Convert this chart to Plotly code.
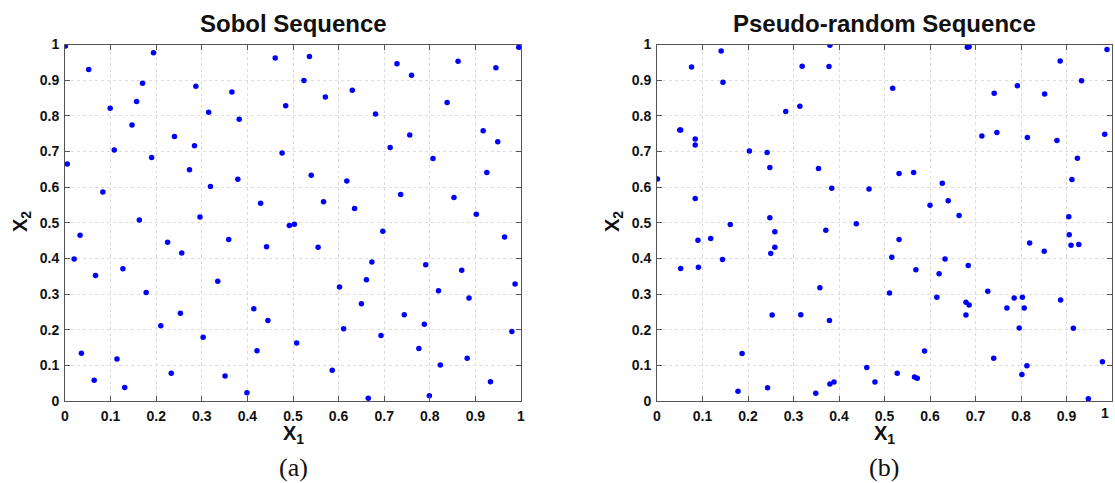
import plotly.graph_objects as go

# Sobol sequence points (x1, x2)
sobol_x1 = [0.001, 0.052, 0.194, 0.170, 0.287, 0.366, 0.461, 0.157, 0.099, 0.315,
            0.484, 0.382, 0.147, 0.240, 0.284, 0.108, 0.476, 0.005, 0.190, 0.273,
            0.379, 0.319, 0.083, 0.429, 0.163, 0.296,
            0.536, 0.524, 0.571, 0.630, 0.728, 0.760, 0.862, 0.945, 0.995, 0.681,
            0.838, 0.917, 0.949, 0.756, 0.713, 0.807, 0.925, 0.540, 0.618, 0.567,
            0.635, 0.736, 0.853, 0.902,
            0.492, 0.503, 0.033, 0.020, 0.067, 0.127, 0.225, 0.256, 0.359, 0.442,
            0.178, 0.335, 0.414, 0.445, 0.253, 0.210, 0.303, 0.421, 0.036, 0.114,
            0.064, 0.131, 0.233, 0.351, 0.399,
            0.697, 0.555, 0.673, 0.791, 0.870, 0.964, 0.661, 0.602, 0.819, 0.987,
            0.886, 0.650, 0.744, 0.788, 0.611, 0.980, 0.508, 0.693, 0.776, 0.882,
            0.823, 0.586, 0.933, 0.665, 0.799]
sobol_x2 = [0.996, 0.930, 0.977, 0.891, 0.883, 0.867, 0.962, 0.840, 0.821, 0.810,
            0.828, 0.790, 0.774, 0.742, 0.716, 0.704, 0.696, 0.665, 0.683, 0.649,
            0.622, 0.602, 0.586, 0.555, 0.508, 0.516,
            0.966, 0.899, 0.853, 0.872, 0.946, 0.914, 0.953, 0.935, 0.992, 0.805,
            0.837, 0.758, 0.727, 0.746, 0.711, 0.680, 0.641, 0.633, 0.617, 0.559,
            0.540, 0.579, 0.571, 0.524,
            0.492, 0.496, 0.465, 0.398, 0.352, 0.371, 0.445, 0.415, 0.453, 0.433,
            0.304, 0.336, 0.259, 0.226, 0.246, 0.211, 0.179, 0.141, 0.134, 0.118,
            0.058, 0.038, 0.078, 0.070, 0.023,
            0.476, 0.431, 0.390, 0.382, 0.367, 0.460, 0.340, 0.320, 0.309, 0.328,
            0.289, 0.273, 0.242, 0.215, 0.203, 0.195, 0.163, 0.184, 0.147, 0.120,
            0.101, 0.086, 0.054, 0.008, 0.015]

# Pseudo-random points (x1, x2)
rand_x1 = [0.001, 0.076, 0.141, 0.145, 0.050, 0.052, 0.084, 0.084, 0.084, 0.203,
           0.242, 0.248, 0.248, 0.283, 0.314, 0.319, 0.380, 0.378, 0.355, 0.384,
           0.466, 0.438, 0.161,
           0.682, 0.686, 0.518, 0.741, 0.792, 0.852, 0.886, 0.933, 0.989, 0.714,
           0.747, 0.814, 0.879, 0.984, 0.532, 0.564, 0.924, 0.627, 0.912, 0.640,
           0.600, 0.664, 0.905,
           0.259, 0.371, 0.090, 0.118, 0.144, 0.052, 0.091, 0.259, 0.250, 0.358,
           0.253, 0.316, 0.379, 0.187, 0.178, 0.243, 0.349, 0.380, 0.389, 0.461,
           0.479,
           0.532, 0.516, 0.569, 0.633, 0.620, 0.684, 0.511, 0.615, 0.679, 0.686,
           0.679, 0.727, 0.769, 0.785, 0.803, 0.807, 0.796, 0.887, 0.915, 0.819,
           0.851, 0.906, 0.910, 0.927, 0.588, 0.740, 0.813, 0.802, 0.528, 0.566,
           0.572, 0.979, 0.948]
rand_x2 = [0.623, 0.937, 0.982, 0.894, 0.760, 0.760, 0.735, 0.718, 0.568, 0.701,
           0.697, 0.655, 0.514, 0.812, 0.827, 0.939, 0.998, 0.938, 0.652, 0.597,
           0.595, 0.497, 0.495,
           0.992, 0.994, 0.877, 0.863, 0.884, 0.861, 0.954, 0.898, 0.986, 0.743,
           0.753, 0.739, 0.731, 0.748, 0.638, 0.641, 0.681, 0.611, 0.621, 0.562,
           0.549, 0.520, 0.517,
           0.475, 0.479, 0.451, 0.456, 0.397, 0.372, 0.375, 0.431, 0.414, 0.318,
           0.241, 0.242, 0.226, 0.133, 0.027, 0.037, 0.022, 0.048, 0.053, 0.094,
           0.053,
           0.453, 0.403, 0.368, 0.398, 0.357, 0.380, 0.303, 0.291, 0.277, 0.269,
           0.241, 0.308, 0.261, 0.289, 0.291, 0.261, 0.205, 0.283, 0.204, 0.443,
           0.420, 0.466, 0.437, 0.439, 0.140, 0.120, 0.099, 0.074, 0.078, 0.067,
           0.064, 0.110, 0.006]

tick_vals = [0, 0.1, 0.2, 0.3, 0.4, 0.5, 0.6, 0.7, 0.8, 0.9, 1]
tick_text = ["0", "0.1", "0.2", "0.3", "0.4", "0.5", "0.6", "0.7", "0.8", "0.9", "1"]
titles = ["Sobol Sequence", "Pseudo-random Sequence"]
panel_labels = ["(a)", "(b)"]

W, H = 1115, 483
x_domains = [[65 / W, 521 / W], [657 / W, 1112 / W]]
y_domain = [(H - 401) / H, (H - 44.5) / H]
FONT = "Liberation Sans, Arial, sans-serif"
TICKFONT = dict(family=FONT, size=14, color="#111", weight="bold")

fig = go.Figure()
fig.add_trace(go.Scatter(x=sobol_x1, y=sobol_x2, mode="markers",
                         marker=dict(color="#0000ff", size=5.5), xaxis="x", yaxis="y",
                         showlegend=False, hoverinfo="x+y"))
fig.add_trace(go.Scatter(x=rand_x1, y=rand_x2, mode="markers",
                         marker=dict(color="#0000ff", size=5.5), xaxis="x2", yaxis="y2",
                         showlegend=False, hoverinfo="x+y"))

axis_common = dict(range=[0, 1], tickvals=tick_vals, ticktext=tick_text,
                   automargin=False,
                   showgrid=True, gridcolor="#dcdcdc", griddash="dot", gridwidth=1,
                   showline=True, linecolor="#555555", linewidth=1, mirror="ticks",
                   ticks="inside", ticklen=5, tickcolor="#555555", zeroline=False,
                   tickfont=TICKFONT, ticklabelstandoff=2,
                   fixedrange=True)

fig.update_layout(
    template="none",
    width=W, height=H,
    margin=dict(l=0, r=0, t=0, b=0),
    paper_bgcolor="white", plot_bgcolor="white",
    xaxis=dict(domain=x_domains[0], anchor="y", **axis_common),
    yaxis=dict(domain=y_domain, anchor="x", **axis_common),
    xaxis2=dict(domain=x_domains[1], anchor="y2", **axis_common),
    yaxis2=dict(domain=y_domain, anchor="x2", **axis_common),
)

ann = []
for i in range(2):
    cx = (x_domains[i][0] + x_domains[i][1]) / 2
    ann.append(dict(text="<b>" + titles[i] + "</b>", x=cx, y=(H - 23) / H,
                    xref="paper", yref="paper", showarrow=False,
                    font=dict(family=FONT, size=24, color="#111"),
                    xanchor="center", yanchor="middle"))
    ann.append(dict(text="<b>X<sub>1</sub></b>", x=cx, y=(H - 434) / H,
                    xref="paper", yref="paper", showarrow=False,
                    font=dict(family=FONT, size=20, color="#111"),
                    xanchor="center", yanchor="middle"))
    ann.append(dict(text="<b>X<sub>2</sub></b>", x=(x_domains[i][0] * W - 44) / W,
                    y=(H - 222) / H, textangle=-90,
                    xref="paper", yref="paper", showarrow=False,
                    font=dict(family=FONT, size=20, color="#111"),
                    xanchor="center", yanchor="middle"))
    ann.append(dict(text=panel_labels[i], x=cx, y=(H - 467) / H,
                    xref="paper", yref="paper", showarrow=False,
                    font=dict(family="Liberation Serif, Times New Roman, serif", size=26, color="#111"),
                    xanchor="center", yanchor="middle"))

# last x tick label of the right panel sits at the page edge; draw it right-aligned
ann.append(dict(text=tick_text[-1], x=tick_vals[-1], xref="x2", y=(H - 413) / H, yref="paper",
                showarrow=False, xanchor="right", yanchor="middle", xshift=-1,
                font=TICKFONT))
fig.update_layout(annotations=ann)

fig.write_html("out.html")
